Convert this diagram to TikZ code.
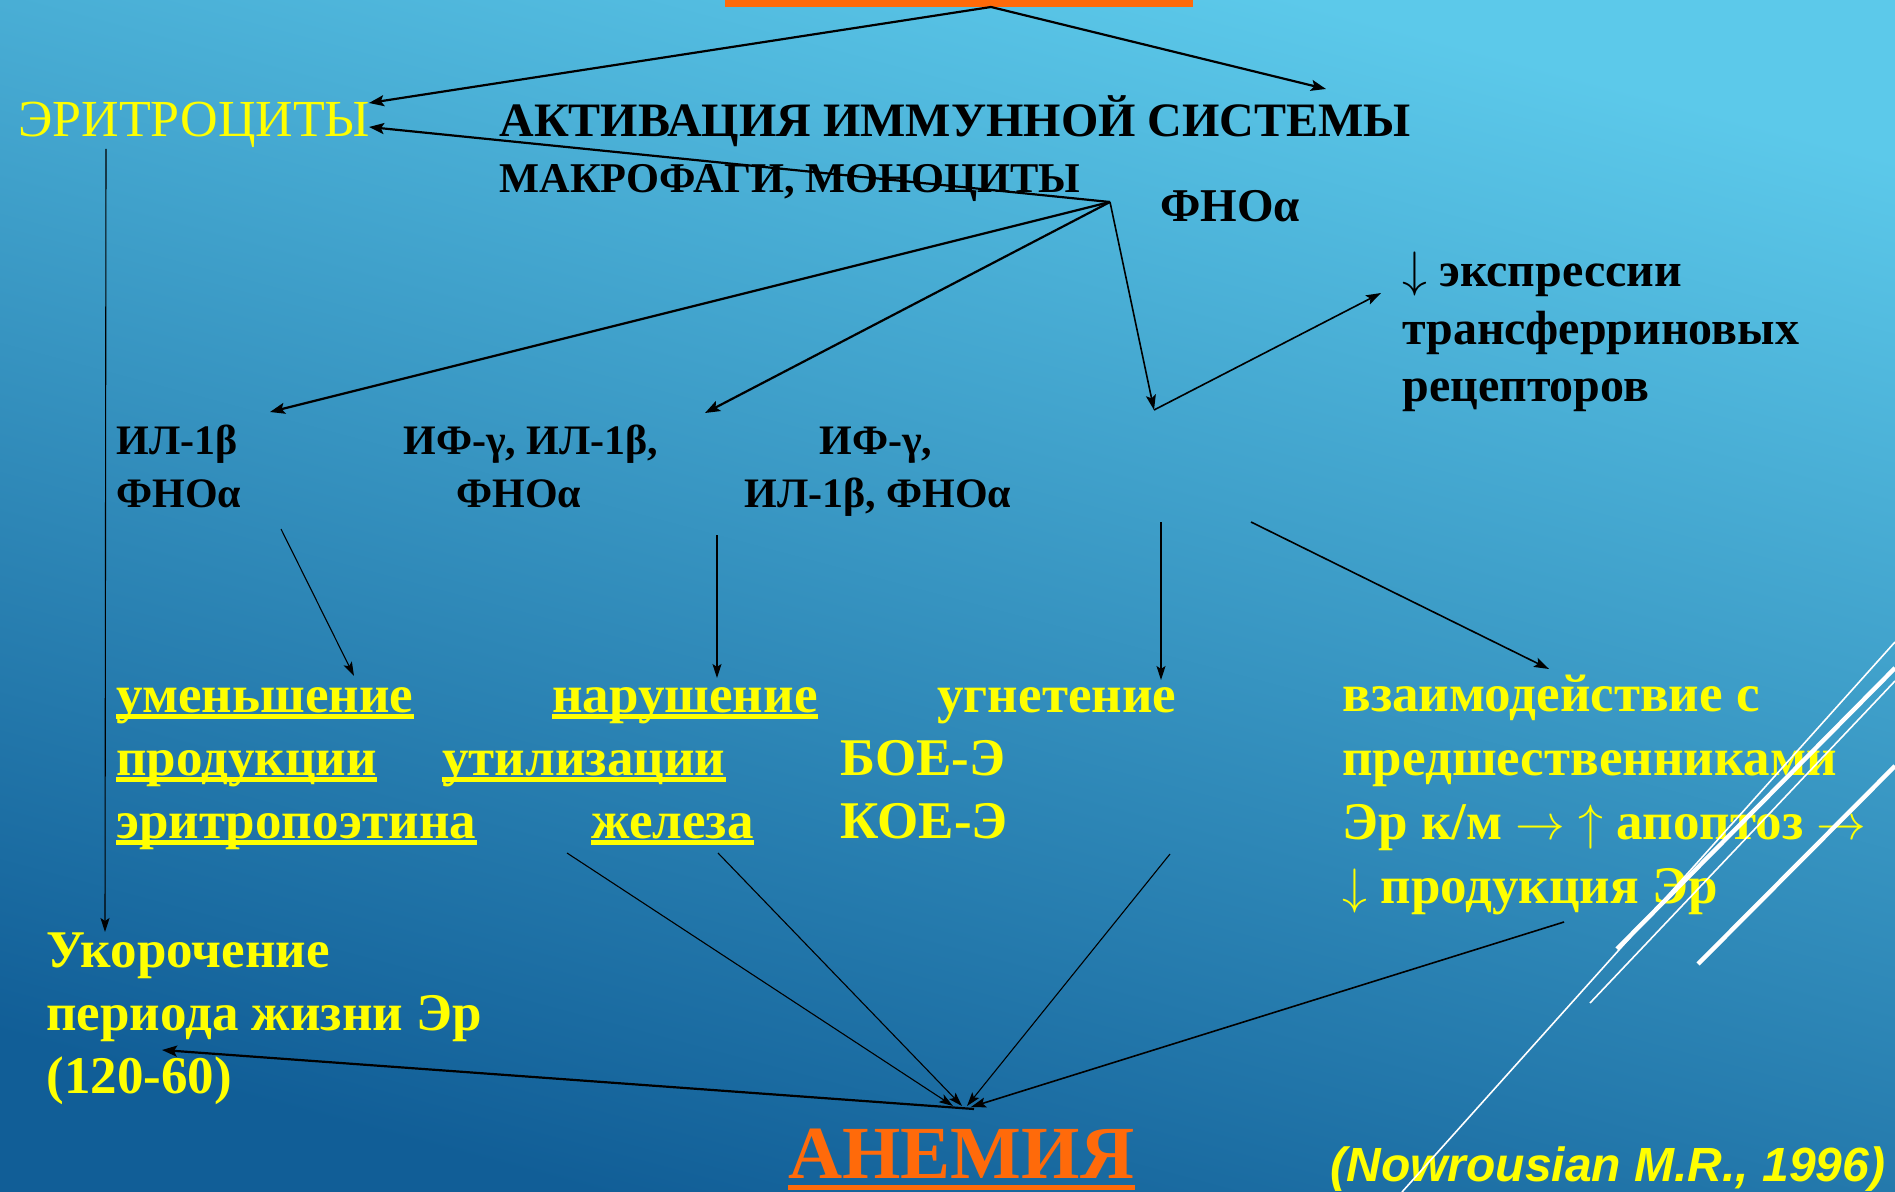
\documentclass[tikz,border=0pt]{standalone}
\usepackage{fontspec}
\setmainfont{Liberation Serif}
\newfontfamily\citefont{Liberation Sans}
\usetikzlibrary{arrows.meta}
\definecolor{bgtop}{HTML}{5CC9EA}
\definecolor{bgbot}{HTML}{115E97}
\definecolor{anemia}{HTML}{FF6A0A}
\definecolor{ylw}{HTML}{FFFF00}
\tikzset{
  txt/.style={inner sep=0pt, anchor=base west},
  eritrostyle/.style={txt, text=ylw, font=\fontsize{26}{30}\selectfont},
  titlestyle/.style={txt, text=black, font=\bfseries\fontsize{24}{29}\selectfont},
  substyle/.style={txt, text=black, font=\bfseries\fontsize{21.2}{26}\selectfont},
  fnostyle/.style={txt, text=black, font=\bfseries\fontsize{23.5}{28}\selectfont},
  exprstyle/.style={txt, text=black, font=\bfseries\fontsize{24}{29}\selectfont},
  cytostyle/.style={txt, text=black, font=\bfseries\fontsize{21}{25}\selectfont},
  yltext/.style={txt, text=ylw, font=\bfseries\fontsize{26.5}{32}\selectfont},
  anemstyle/.style={txt, text=anemia, font=\bfseries\fontsize{37.5}{44}\selectfont},
  citestyle/.style={txt, text=ylw, font=\citefont\bfseries\itshape\fontsize{24}{29}\selectfont},
  uline/.style={draw=ylw, line width=2.8pt},
  thickarrow/.style={draw=black, line width=1.1pt, -{Stealth[length=7.5pt,width=5.5pt,inset=1.5pt]}},
  medarrow/.style={draw=black, line width=0.8pt, -{Stealth[length=7.5pt,width=5pt,inset=1.5pt]}},
  thinarrow/.style={draw=black, line width=0.55pt, -{Stealth[length=7pt,width=4.5pt,inset=1.5pt]}},
  deco/.style={draw=white, line cap=butt}
}
\begin{document}
\begin{tikzpicture}[x=0.5pt,y=-0.5pt]
\shade[top color=bgtop, bottom color=bgbot, shading angle=-15] (0,0) rectangle (1895,1192);
\useasboundingbox (0,0) rectangle (1895,1192);

% top orange bar
\fill[anemia] (725,0) rectangle (1193,7);

% texts
\node[eritrostyle] (eritro) at (18,137) {ЭРИТРОЦИТЫ};
\node[titlestyle] (activ) at (499,137) {АКТИВАЦИЯ ИММУННОЙ СИСТЕМЫ};
\node[substyle] (macro) at (499,193) {МАКРОФАГИ, МОНОЦИТЫ};
\node[fnostyle] (fno) at (1160,222) {ФНОα};

\node[exprstyle] (expr1) at (1402,287) {$\downarrow$ экспрессии};
\node[exprstyle] (expr2) at (1402,345) {трансферриновых};
\node[exprstyle] (expr3) at (1402,401) {рецепторов};

\node[cytostyle] (cyA1) at (116,455) {ИЛ-1β};
\node[cytostyle] (cyA2) at (116,508) {ФНОα};
\node[cytostyle] (cyB1) at (403,455) {ИФ-γ, ИЛ-1β,};
\node[cytostyle] (cyB2) at (456,508) {ФНОα};
\node[cytostyle] (cyC1) at (819,455) {ИФ-γ,};
\node[cytostyle] (cyC2) at (744,508) {ИЛ-1β, ФНОα};

\node[yltext] (um1) at (116,712) {уменьшение};
\node[yltext] (um2) at (116,775) {продукции};
\node[yltext] (um3) at (116,838) {эритропоэтина};
\node[yltext] (na1) at (552,712) {нарушение};
\node[yltext] (na2) at (442,775) {утилизации};
\node[yltext] (na3) at (591,838) {железа};
\foreach \n in {um1,um2,um3,na1,na2,na3}
  \draw[uline] ([yshift=-2.2pt]\n.base west) -- ([yshift=-2.2pt]\n.base east);

\node[yltext] (ug1) at (937,712) {угнетение};
\node[yltext] (ug2) at (840,775) {БОЕ-Э};
\node[yltext] (ug3) at (840,838) {КОЕ-Э};

\node[yltext] (vz1) at (1342,711) {взаимодействие с};
\node[yltext] (vz2) at (1342,775) {предшественниками};
\node[yltext] (vz3) at (1342,839) {Эр к/м $\rightarrow$ $\uparrow$ апоптоз $\rightarrow$};
\node[yltext] (vz4) at (1342,903) {$\downarrow$ продукция Эр};

\node[yltext] (uk1) at (46,967) {Укорочение};
\node[yltext] (uk2) at (46,1030) {периода жизни Эр};
\node[yltext] (uk3) at (46,1093) {(120-60)};

\node[anemstyle] (anem) at (788,1178) {АНЕМИЯ};
\draw[draw=anemia, line width=2.8pt] ([yshift=-4.7pt]anem.base west) -- ([yshift=-4.7pt]anem.base east);

\node[citestyle] (cite) at (1330,1181) {(Nowrousian M.R., 1996)};

% connector end points
\coordinate (top) at (991,7);
\coordinate (eritroIn1) at (369,103);
\coordinate (activIn) at (1326,89);
\coordinate (hub) at (1110,202);
\coordinate (eritroIn2) at (369,127);
\coordinate (cAin) at (270,412);
\coordinate (cBin) at (705,413);
\coordinate (cCin) at (1154,410);
\coordinate (exprIn) at (1381,293);
\coordinate (eritroOut) at (106,149);
\coordinate (ukorIn) at (105,932);
\coordinate (cAout) at (281,529);
\coordinate (umIn) at (354,676);
\coordinate (cBout) at (717,535);
\coordinate (naIn) at (717,678);
\coordinate (cCout) at (1161,522);
\coordinate (ugIn) at (1161,680);
\coordinate (cCout2) at (1251,522);
\coordinate (vzIn) at (1549,669);
\coordinate (naOut1) at (567,853);
\coordinate (naOut2) at (718,853);
\coordinate (ugOut) at (1170,854);
\coordinate (vzOut) at (1564,922);
\coordinate (an1) at (953,1106);
\coordinate (an2) at (962,1106);
\coordinate (an3) at (967,1106);
\coordinate (an4) at (971,1107);
\coordinate (anOut) at (974,1109);
\coordinate (ukorOut) at (162,1050);

% connectors
\draw[thickarrow] (top) -- (eritroIn1);
\draw[thickarrow] (top) -- (activIn);
\draw[thickarrow] (hub) -- (eritroIn2);
\draw[thickarrow] (hub) -- (cAin);
\draw[thickarrow] (hub) -- (cBin);
\draw[medarrow] (hub) -- (cCin);
\draw[medarrow] (cCin) -- (exprIn);
\draw[thinarrow] (eritroOut) -- (ukorIn);
\draw[thinarrow] (cAout) -- (umIn);
\draw[thinarrow] (cBout) -- (naIn);
\draw[thinarrow] (cCout) -- (ugIn);
\draw[medarrow] (cCout2) -- (vzIn);
\draw[thinarrow] (naOut1) -- (an1);
\draw[thinarrow] (naOut2) -- (an2);
\draw[thinarrow] (ugOut) -- (an3);
\draw[medarrow] (vzOut) -- (an4);
\draw[thickarrow] (anOut) -- (ukorOut);

% decorative white lines
\draw[deco, line width=0.8pt] (1895,642) -- (1402,1192);
\draw[deco, line width=2.2pt] (1895,668) -- (1617,949);
\draw[deco, line width=0.8pt] (1895,681) -- (1590,1003);
\draw[deco, line width=2.2pt] (1895,766) -- (1698,964);
\end{tikzpicture}
\end{document}
